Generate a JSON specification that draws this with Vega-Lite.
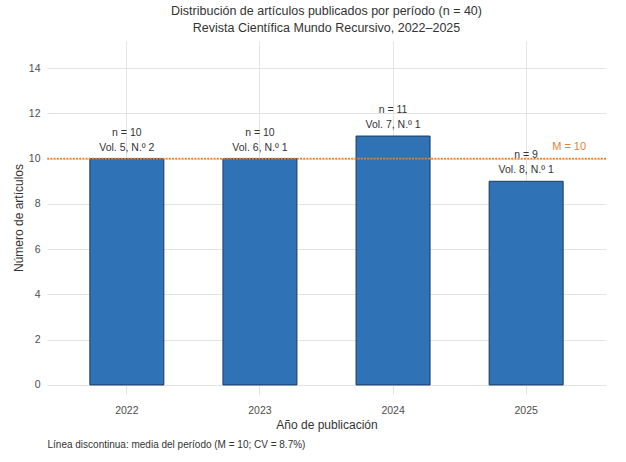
{
  "$schema": "https://vega.github.io/schema/vega-lite/v6.json",
  "width": 559,
  "height": 353,
  "autosize": "none",
  "padding": {"left": 47, "top": 41, "right": 20, "bottom": 68},
  "background": "white",
  "config": {
    "font": "Liberation Sans",
    "view": {"stroke": null},
    "axis": {"labelColor": "#4d4d4d", "titleColor": "#333333", "gridColor": "#e3e3e3", "gridWidth": 1}
  },
  "title": {
    "text": ["Distribución de artículos publicados por período (n = 40)", "Revista Científica Mundo Recursivo, 2022–2025"],
    "fontSize": 12.5,
    "fontWeight": "normal",
    "color": "#333333",
    "lineHeight": 17,
    "anchor": "middle",
    "offset": 7
  },
  "datasets": {
    "periodos": [
      {"anio": "2022", "n": 10, "etiqueta": "n = 10\nVol. 5, N.º 2"},
      {"anio": "2023", "n": 10, "etiqueta": "n = 10\nVol. 6, N.º 1"},
      {"anio": "2024", "n": 11, "etiqueta": "n = 11\nVol. 7, N.º 1"},
      {"anio": "2025", "n": 9, "etiqueta": "n = 9\nVol. 8, N.º 1"}
    ],
    "media": [{"anio": "2025", "M": 10, "texto": "M = 10"}]
  },
  "layer": [
    {
      "data": {"name": "periodos"},
      "mark": {"type": "bar", "fill": "#2f72b5", "stroke": "#1b3a63", "strokeWidth": 1},
      "encoding": {
        "x": {
          "field": "anio", "type": "ordinal",
          "scale": {"paddingInner": 0.444, "paddingOuter": 0.322},
          "axis": {
            "title": "Año de publicación", "labelAngle": 0, "labelFontSize": 10.5,
            "titleFontSize": 12, "titleFontWeight": "normal", "titlePadding": 4,
            "labelPadding": 11, "ticks": false, "domain": false, "grid": true
          }
        },
        "y": {
          "field": "n", "type": "quantitative",
          "scale": {"domain": [-0.4, 15.2], "nice": false, "zero": false},
          "axis": {
            "title": "Número de artículos", "values": [0, 2, 4, 6, 8, 10, 12, 14],
            "labelFontSize": 10.5, "titleFontSize": 12, "titleFontWeight": "normal",
            "ticks": false, "domain": false, "labelPadding": 7, "titlePadding": 3
          }
        }
      }
    },
    {
      "data": {"name": "periodos"},
      "mark": {"type": "text", "baseline": "bottom", "dy": -21, "fontSize": 10.5, "color": "#333333", "lineBreak": "\n", "lineHeight": 15},
      "encoding": {
        "x": {
          "field": "anio", "type": "ordinal",
          "axis": {
            "orient": "bottom", "labels": false, "ticks": false, "domain": false, "grid": false,
            "title": "Línea discontinua: media del período (M = 10; CV = 8.7%)",
            "titleFontSize": 10, "titleFontWeight": "normal", "titleColor": "#333333",
            "titleAnchor": "start", "titleAlign": "left", "titleBaseline": "middle",
            "titleX": 0, "titleY": 50
          }
        },
        "y": {"field": "n", "type": "quantitative"},
        "text": {"field": "etiqueta"}
      }
    },
    {
      "data": {"name": "media"},
      "mark": {"type": "rule", "color": "#e0843a", "strokeWidth": 1.6, "strokeDash": [2, 1.2]},
      "encoding": {
        "y": {"field": "M", "type": "quantitative"}
      }
    },
    {
      "data": {"name": "media"},
      "mark": {"type": "text", "color": "#e0843a", "fontSize": 11, "align": "center", "baseline": "middle", "dx": 43, "dy": -12},
      "encoding": {
        "x": {"field": "anio", "type": "ordinal", "axis": null},
        "y": {"field": "M", "type": "quantitative"},
        "text": {"field": "texto"}
      }
    }
  ],
  "resolve": {"axis": {"x": "independent"}}
}
